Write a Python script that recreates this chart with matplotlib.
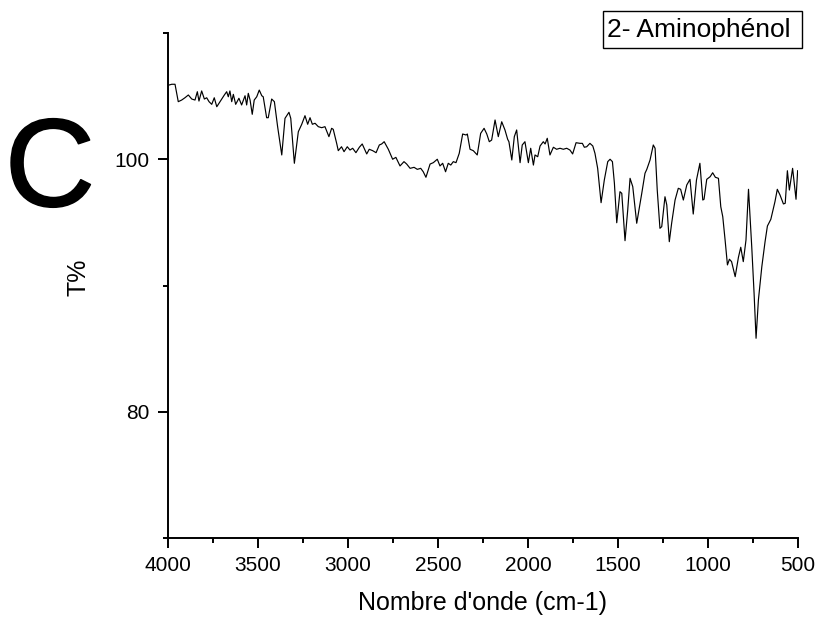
import matplotlib
matplotlib.use('Agg')
import matplotlib.pyplot as plt
import matplotlib.patheffects as pe
from matplotlib.ticker import MultipleLocator, FixedLocator
from matplotlib.patches import Rectangle

plt.rcParams['font.family'] = ['Liberation Sans', 'DejaVu Sans']

# IR spectrum of 2-aminophenol
wavenumber = [
    3994, 3979, 3961, 3943, 3924, 3906, 3887, 3868, 3850, 3837,
    3828, 3813, 3798, 3785, 3772, 3757, 3743, 3729, 3711, 3687,
    3674, 3665, 3656, 3646, 3637, 3624, 3606, 3591, 3572, 3563,
    3554, 3544, 3532, 3521, 3507, 3493, 3479, 3471, 3452, 3443,
    3424, 3409, 3391, 3368, 3350, 3328, 3318, 3298, 3276, 3257,
    3239, 3224, 3211, 3198, 3183, 3165, 3146, 3128, 3106, 3091,
    3082, 3063, 3054, 3036, 3022, 3004, 2989, 2974, 2956, 2937,
    2921, 2896, 2882, 2863, 2844, 2826, 2813, 2799, 2776, 2752,
    2734, 2711, 2689, 2674, 2655, 2633, 2615, 2596, 2582, 2567,
    2544, 2526, 2504, 2489, 2474, 2458, 2443, 2429, 2415, 2400,
    2382, 2363, 2344, 2337, 2322, 2304, 2282, 2263, 2244, 2229,
    2215, 2202, 2183, 2165, 2146, 2128, 2113, 2106, 2090, 2076,
    2063, 2044, 2032, 2017, 1998, 1985, 1970, 1961, 1946, 1933,
    1915, 1905, 1893, 1878, 1859, 1841, 1822, 1804, 1785, 1767,
    1752, 1733, 1711, 1698, 1687, 1674, 1656, 1640, 1628, 1613,
    1594, 1576, 1557, 1544, 1531, 1520, 1507, 1489, 1479, 1461,
    1446, 1433, 1418, 1396, 1368, 1350, 1340, 1322, 1304, 1294,
    1282, 1267, 1257, 1239, 1229, 1215, 1202, 1183, 1165, 1152,
    1137, 1118, 1100, 1082, 1064, 1045, 1029, 1022, 1007, 988,
    974, 959, 942, 929, 918, 905, 892, 881, 869, 849,
    831, 818, 804, 789, 775, 757, 744, 733, 720, 701,
    683, 670, 651, 628, 615, 600, 581, 571, 559, 548,
    530, 511, 502,
]
transmittance = [
    105.88, 105.94, 105.94, 104.56, 104.69, 104.87, 105.09, 104.77, 104.69, 105.35,
    104.61, 105.41, 104.77, 104.87, 104.56, 104.35, 104.87, 104.16, 104.56, 105.09,
    105.35, 104.95, 105.41, 104.56, 105.14, 104.35, 104.83, 104.30, 105.03, 104.30,
    105.22, 104.69, 103.56, 104.69, 104.95, 105.48, 105.03, 104.95, 103.29, 103.29,
    104.77, 104.56, 102.58, 100.34, 103.24, 103.72, 103.24, 99.68, 102.18, 102.77,
    103.45, 102.77, 103.29, 102.77, 102.85, 102.58, 102.50, 102.58, 101.79, 102.45,
    102.37, 101.26, 100.68, 100.99, 100.60, 100.99, 100.73, 100.87, 100.52, 100.95,
    101.21, 100.42, 100.79, 100.68, 100.52, 101.13, 101.21, 101.39, 100.79, 100.00,
    100.15, 99.47, 99.81, 99.62, 99.28, 99.36, 99.20, 99.28, 99.01, 98.57,
    99.62, 99.73, 100.00, 99.47, 99.68, 99.01, 99.68, 99.54, 99.81, 99.73,
    100.47, 102.00, 101.92, 102.00, 100.79, 100.68, 100.34, 102.05, 102.45, 102.00,
    101.39, 101.52, 103.11, 101.79, 102.97, 102.32, 101.58, 101.39, 99.94, 101.79,
    102.32, 99.73, 101.13, 101.39, 99.73, 100.87, 99.54, 100.34, 100.20, 101.05,
    101.39, 101.21, 101.66, 100.34, 100.95, 100.79, 100.87, 100.79, 100.87, 100.73,
    100.42, 101.31, 101.26, 101.26, 100.95, 100.99, 101.26, 101.05, 100.47, 99.28,
    96.56, 98.36, 99.81, 100.00, 99.81, 98.10, 94.97, 97.43, 97.30, 93.55,
    95.98, 98.49, 97.83, 94.93, 97.30, 98.89, 99.20, 99.94, 101.13, 100.87,
    97.56, 94.53, 94.66, 97.03, 96.38, 93.47, 94.93, 96.77, 97.70, 97.62,
    96.77, 97.96, 98.41, 95.66, 98.36, 99.68, 96.77, 96.83, 98.41, 98.62,
    98.93, 98.57, 98.49, 96.24, 95.45, 93.60, 91.63, 92.08, 91.89, 90.70,
    92.23, 93.03, 91.89, 93.60, 97.62, 93.07, 89.38, 85.82, 88.85, 91.49,
    93.47, 94.71, 95.24, 96.64, 97.62, 97.17, 96.46, 96.51, 99.09, 97.56,
    99.28, 96.83, 99.09,
]

x_ticks = [4000, 3500, 3000, 2500, 2000, 1500, 1000, 500]
y_ticks = [80, 100]
x_label = "Nombre d'onde (cm-1)"
y_label = "T%"
legend_label = "2- Aminophénol"
panel_letter = "C"

W, H = 818, 618
fig = plt.figure(figsize=(W / 100, H / 100), dpi=100)
ax = fig.add_axes([168 / W, 1 - 538 / H, 630 / W, 505 / H])

ax.plot(wavenumber, transmittance, color='black', lw=0.85)

ax.set_xlim(4000, 500)
ax.set_ylim(70, 110)
ax.xaxis.set_major_locator(FixedLocator(x_ticks))
ax.xaxis.set_minor_locator(MultipleLocator(250))
ax.yaxis.set_major_locator(FixedLocator(y_ticks))
ax.yaxis.set_minor_locator(MultipleLocator(10))

for s in ('top', 'right'):
    ax.spines[s].set_visible(False)
for s in ('left', 'bottom'):
    ax.spines[s].set_linewidth(1.4)

ax.tick_params(which='major', direction='out', length=7, width=1.4,
               labelsize=15, pad=6)
ax.tick_params(which='minor', direction='out', length=3.5, width=1.4)

ax.set_xlabel(x_label, fontsize=18)
ax.xaxis.set_label_coords(0.5, -0.105)
ax.set_ylabel(y_label, fontsize=18)
ax.yaxis.label.set_va('center')
ax.yaxis.set_label_coords(-0.142, 0.517)

# legend box
fig.patches.append(Rectangle((602.7 / W, 1 - 48 / H), 199 / W, 37 / H,
                             transform=fig.transFigure, fill=False,
                             edgecolor='black', lw=1.0))
fig.text(606.7 / W, 1 - 29.5 / H, legend_label, fontsize=19,
         ha='left', va='center')

# panel letter
fig.text(50 / W, 1 - 206 / H, panel_letter, fontsize=90,
         ha='center', va='baseline',
         path_effects=[pe.withStroke(linewidth=1.2, foreground='black')])

fig.savefig('out.png', dpi=100)
